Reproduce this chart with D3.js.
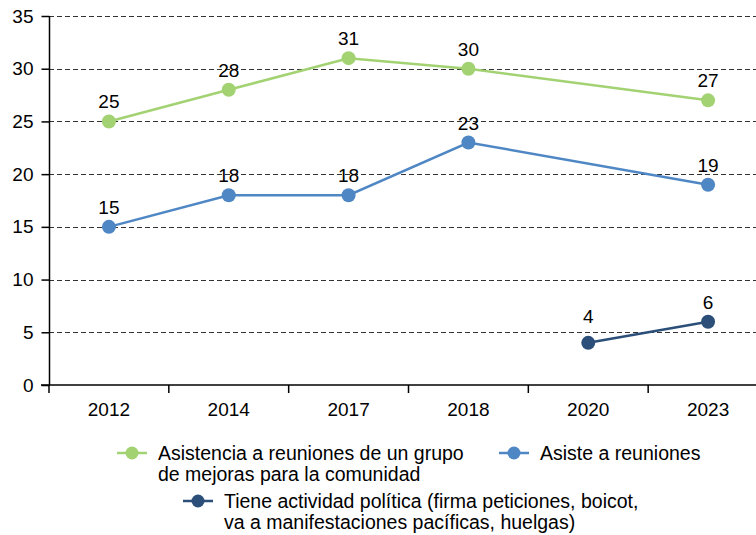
<!DOCTYPE html>
<html>
<head>
<meta charset="utf-8">
<script src="https://cdn.jsdelivr.net/npm/d3@7"></script>
<style>
  body { margin: 0; background: #fff; }
  svg { font-family: "Liberation Sans", Arial, sans-serif; }
</style>
</head>
<body>
<svg width="756" height="535"></svg>
<script>
let years = ['2012', '2014', '2017', '2018', '2020', '2023'];
let yTicks = [0, 5, 10, 15, 20, 25, 30, 35];

let mejoras = [25, 28, 31, 30, null, 27];
let asiste = [15, 18, 18, 23, null, 19];
let politica = [null, null, null, null, 4, 6];

let series = [
    {name: ['Asistencia a reuniones de un grupo', 'de mejoras para la comunidad'], values: mejoras, color: '#a3d273'},
    {name: ['Asiste a reuniones'], values: asiste, color: '#4f87c5'},
    {name: ['Tiene actividad política (firma peticiones, boicot,', 'va a manifestaciones pacíficas, huelgas)'], values: politica, color: '#2b4f79'}
];

let svg = d3.select('svg');
let fs = 19;

let x = d3.scaleBand().domain(years).range([49, 768]);
let y = d3.scaleLinear().domain([0, 35]).range([385, 16]);
let cx = d => x(d) + x.bandwidth() / 2;

// gridlines
svg.append('g')
    .selectAll('line')
    .data(yTicks.filter(d => d > 0))
    .enter().append('line')
    .attr('x1', 49).attr('x2', 756)
    .attr('y1', d => Math.round(y(d)) + 0.5)
    .attr('y2', d => Math.round(y(d)) + 0.5)
    .attr('stroke', '#333')
    .attr('stroke-dasharray', '5,3');

let yAxis = svg.append('g')
    .attr('transform', 'translate(49.5,0)')
    .call(d3.axisLeft(y).tickValues(yTicks).tickSize(8).tickPadding(8));
yAxis.select('.domain').attr('d', `M0,${y(35)}V${y(0)}`).attr('stroke', '#000').attr('stroke-width', 1.5);
yAxis.selectAll('.tick line').attr('stroke', '#000').attr('stroke-width', 1.5);
yAxis.selectAll('text').attr('font-size', fs).attr('fill', '#000');
yAxis.attr('font-family', null);

let xAxis = svg.append('g')
    .attr('transform', `translate(0,${y(0)})`);
xAxis.append('line')
    .attr('x1', 41).attr('x2', 756)
    .attr('stroke', '#000').attr('stroke-width', 1.5);
xAxis.selectAll('.sep')
    .data(years)
    .enter().append('line')
    .attr('x1', d => x(d)).attr('x2', d => x(d))
    .attr('y1', 0).attr('y2', 8)
    .attr('stroke', '#000').attr('stroke-width', 1.5);
xAxis.selectAll('text')
    .data(years)
    .enter().append('text')
    .attr('x', cx)
    .attr('y', 31)
    .attr('text-anchor', 'middle')
    .attr('font-size', fs)
    .text(d => d);

let line = d3.line()
    .x(d => cx(d.year))
    .y(d => y(d.v));

series.forEach((s, si) => {
    let valid = years.map((yr, i) => ({year: yr, v: s.values[i]}))
        .filter(d => d.v != null);
    let g = svg.append('g');
    g.append('path')
        .datum(valid)
        .attr('d', line)
        .attr('fill', 'none')
        .attr('stroke', s.color)
        .attr('stroke-width', 2.5);
    g.selectAll('circle')
        .data(valid)
        .enter().append('circle')
        .attr('cx', d => cx(d.year))
        .attr('cy', d => y(d.v))
        .attr('r', 7)
        .attr('fill', s.color);
    g.selectAll('text')
        .data(valid)
        .enter().append('text')
        .attr('x', d => cx(d.year))
        // the low point of the last series sits its label above the 5 gridline
        .attr('y', (d, i) => y(d.v) - (si === 2 && i === 0 ? 20 : 13))
        .attr('text-anchor', 'middle')
        .attr('font-size', fs)
        .text(d => d.v);
});

// legend
let legendPos = [
    {x: 117, y: 460},
    {x: 499, y: 460},
    {x: 183, y: 508}
];
series.forEach((s, i) => {
    let p = legendPos[i];
    let g = svg.append('g').attr('transform', `translate(${p.x},${p.y})`);
    g.append('line')
        .attr('x1', 0).attr('x2', 30)
        .attr('y1', -7).attr('y2', -7)
        .attr('stroke', s.color).attr('stroke-width', 2.5);
    g.append('circle')
        .attr('cx', 15).attr('cy', -7).attr('r', 6.5)
        .attr('fill', s.color);
    s.name.forEach((t, j) => {
        g.append('text')
            .attr('x', 41).attr('y', j * 21)
            .attr('font-size', 19.5)
            .text(t);
    });
});
</script>
</body>
</html>
